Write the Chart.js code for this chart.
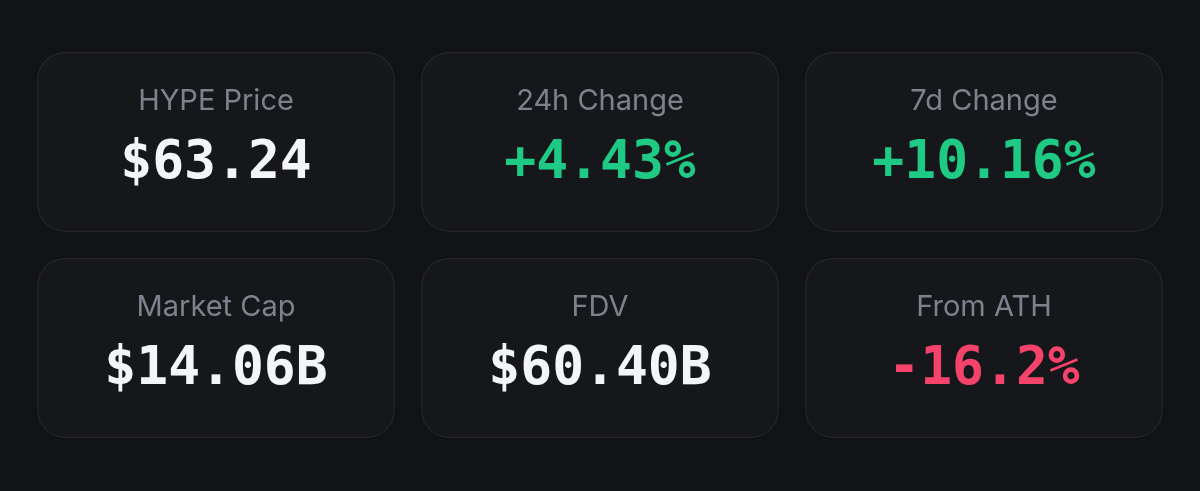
<!DOCTYPE html>
<html>
<head>
<meta charset="utf-8">
<script src="https://cdn.jsdelivr.net/npm/chart.js@4"></script>
<style>
  html, body { margin: 0; padding: 0; background: #121317; }
  #wrap { width: 1200px; height: 491px; position: relative; }
</style>
</head>
<body>
<div id="wrap"><canvas id="cards"></canvas></div>
<script>
// ---- data ----
const columns = ["c1", "c2", "c3"];
const rowLabels = [
  ["HYPE Price", "24h Change", "7d Change"],
  ["Market Cap", "FDV", "From ATH"],
];
const rowValues = [
  ["$63.24", "+4.43%", "+10.16%"],
  ["$14.06B", "$60.40B", "-16.2%"],
];
const rowTones = [
  ["flat", "up", "up"],
  ["flat", "flat", "down"],
];

const TONE = { flat: "#f4f5f7", up: "#1fca85", down: "#f5436b" };
const HALF = 0.437; // half card height, in row units

// one floating-bar dataset per row, overlapped in the same category slot
const datasets = rowLabels.map((_, r) => ({
  data: columns.map(() => [r - HALF, r + HALF]),
  backgroundColor: "#16171b",
  borderColor: "#26272c",
  borderWidth: 1.5,
  borderSkipped: false,
  borderRadius: 28,
  grouped: false,
  barPercentage: 0.932,
  categoryPercentage: 1,
}));

const cardText = {
  id: "cardText",
  afterDatasetsDraw(chart) {
    const ctx = chart.ctx;
    ctx.save();
    ctx.textAlign = "center";
    ctx.textBaseline = "middle";
    chart.data.datasets.forEach((ds, r) => {
      chart.getDatasetMeta(r).data.forEach((bar, c) => {
        const cy = (bar.y + bar.base) / 2;
        ctx.fillStyle = "#7d828c";
        ctx.font = "400 29px Inter, 'Noto Sans', sans-serif";
        ctx.fillText(rowLabels[r][c], bar.x, cy - 41);
        ctx.fillStyle = TONE[rowTones[r][c]];
        ctx.font = "bold 53px 'DejaVu Sans Mono', monospace";
        ctx.fillText(rowValues[r][c], bar.x, cy + 22);
      });
    });
    ctx.restore();
  },
};

new Chart(document.getElementById("cards"), {
  type: "bar",
  data: { labels: columns, datasets },
  options: {
    responsive: true,
    maintainAspectRatio: false,
    animation: false,
    layout: { padding: { left: 24, right: 24, top: 0, bottom: 0 } },
    plugins: { legend: { display: false }, tooltip: { enabled: false } },
    scales: {
      x: { display: false },
      y: { display: false, reverse: true, min: -0.689, max: 1.694 },
    },
  },
  plugins: [cardText],
});
</script>
</body>
</html>
